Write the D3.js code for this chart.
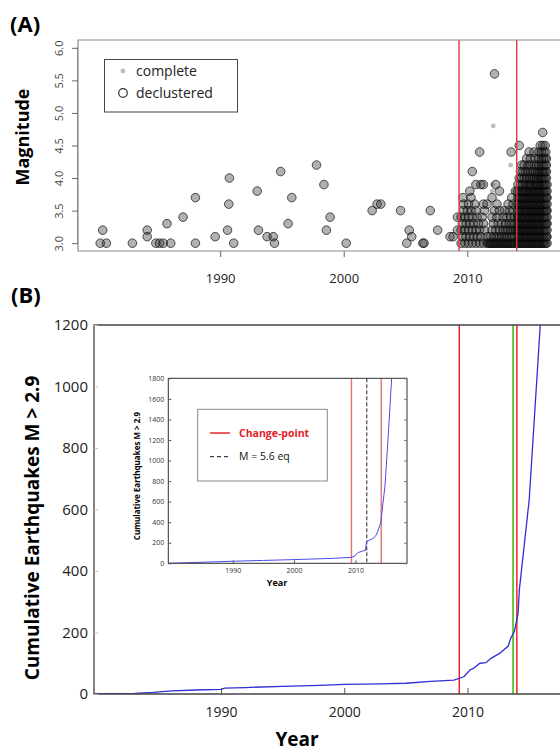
<!DOCTYPE html>
<html>
<head>
<meta charset="utf-8">
<script src="https://cdn.jsdelivr.net/npm/d3@7"></script>
<style>
  body { margin: 0; background: #fff; }
  svg { display: block; font-family: "Open Sans", sans-serif; }
</style>
</head>
<body>
<svg id="chart" width="560" height="752"></svg>
<script>
// ---- panel A: magnitude vs time ----
// isolated events before the first change point [year, magnitude]
const earlyEvents = [
  [1980.3,3.0],[1980.5,3.2],[1980.8,3.0],[1982.9,3.0],[1984.1,3.2],[1984.1,3.1],
  [1984.8,3.0],[1985.1,3.0],[1985.4,3.0],[1985.7,3.3],[1986.0,3.0],[1987.0,3.4],
  [1988.0,3.7],[1988.0,3.0],[1989.6,3.1],[1990.75,4.0],[1990.7,3.6],[1990.6,3.2],
  [1991.1,3.0],[1993.0,3.8],[1993.1,3.2],[1993.8,3.1],[1994.3,3.1],[1994.4,3.0],
  [1994.9,4.1],[1995.5,3.3],[1995.8,3.7],[1997.8,4.2],[1998.4,3.9],[1998.6,3.2],
  [1998.9,3.4],[2000.2,3.0],[2002.3,3.5],[2002.7,3.6],[2003.0,3.6],[2004.6,3.5],
  [2005.1,3.0],[2005.3,3.2],[2005.5,3.1],[2006.4,3.0],[2006.5,3.0],[2007.0,3.5],
  [2007.6,3.2],[2008.6,3.1],[2008.85,3.1],[2009.2,3.4],[2009.2,3.2]
];
// events between the change points, one row per magnitude
const midRows = [
  [3.0, [2009.5,2009.8,2010.1,2010.4,2010.7,2011.0,2011.3,2011.6,2011.7,2011.8,2011.9,2012.0,2012.1,2012.2,2012.3,2012.4,2012.5,2012.6,2012.7,2012.8,2012.9,2013.0,2013.1,2013.2,2013.3,2013.4,2013.5,2013.6,2013.7,2013.8,2013.9]],
  [3.1, [2009.6,2009.9,2010.2,2010.5,2010.8,2011.1,2011.6,2011.9,2012.15,2012.4,2012.6,2012.8,2013.0,2013.2,2013.4,2013.6,2013.8]],
  [3.2, [2009.5,2009.8,2010.1,2010.4,2010.7,2011.0,2011.4,2012.0,2012.3,2012.6,2012.9,2013.1,2013.3,2013.5,2013.7,2013.9]],
  [3.3, [2009.6,2009.9,2010.2,2010.5,2010.9,2011.3,2012.1,2012.5,2012.8,2013.1,2013.4,2013.6,2013.85]],
  [3.4, [2009.5,2009.8,2010.1,2010.4,2010.8,2011.2,2012.0,2012.4,2012.9,2013.2,2013.5,2013.8]],
  [3.5, [2009.7,2010.0,2010.3,2010.7,2011.4,2012.2,2012.6,2013.0,2013.4,2013.75]],
  [3.6, [2009.7,2010.1,2010.6,2011.3,2011.6,2012.4,2013.3,2013.7]],
  [3.7, [2009.65,2010.3,2012.0,2013.6]],
  [3.8, [2010.2,2012.6,2013.9]],
  [3.9, [2010.7,2011.1,2011.3,2012.3]],
  [4.1, [2010.4]],
  [4.4, [2011.0,2013.55]],
  [5.6, [2012.2]]
];
// swarm after the second change point
const swarmRows = [
  [3.0, [2014.05,2014.15,2014.25,2014.35,2014.45,2014.55,2014.65,2014.75,2014.85,2014.95,2015.05,2015.15,2015.25,2015.35,2015.45,2015.55,2015.65,2015.75,2015.85,2015.95,2016.05,2016.15,2016.25,2016.35,2016.45]],
  [3.1, [2014.1,2014.2,2014.3,2014.4,2014.5,2014.6,2014.7,2014.8,2014.9,2015.0,2015.1,2015.2,2015.3,2015.4,2015.5,2015.6,2015.7,2015.8,2015.9,2016.0,2016.1,2016.2,2016.3,2016.4,2016.45]],
  [3.2, [2014.05,2014.15,2014.25,2014.35,2014.45,2014.55,2014.65,2014.75,2014.85,2014.95,2015.05,2015.15,2015.25,2015.35,2015.45,2015.55,2015.65,2015.75,2015.85,2015.95,2016.05,2016.15,2016.25,2016.35,2016.45]],
  [3.3, [2014.1,2014.2,2014.3,2014.4,2014.5,2014.6,2014.7,2014.8,2014.9,2015.0,2015.1,2015.2,2015.3,2015.4,2015.5,2015.6,2015.7,2015.8,2015.9,2016.0,2016.1,2016.2,2016.3,2016.4,2016.45]],
  [3.4, [2014.05,2014.15,2014.25,2014.35,2014.45,2014.55,2014.65,2014.75,2014.85,2014.95,2015.05,2015.15,2015.25,2015.35,2015.45,2015.55,2015.65,2015.75,2015.85,2015.95,2016.05,2016.15,2016.25,2016.35,2016.45]],
  [3.5, [2014.1,2014.2,2014.3,2014.4,2014.5,2014.6,2014.7,2014.8,2014.9,2015.0,2015.1,2015.2,2015.3,2015.4,2015.5,2015.6,2015.7,2015.8,2015.9,2016.0,2016.1,2016.2,2016.3,2016.4,2016.45]],
  [3.6, [2014.05,2014.15,2014.25,2014.35,2014.45,2014.55,2014.65,2014.75,2014.85,2014.95,2015.05,2015.15,2015.25,2015.35,2015.45,2015.55,2015.65,2015.75,2015.85,2015.95,2016.05,2016.15,2016.25,2016.35,2016.45]],
  [3.7, [2014.1,2014.2,2014.3,2014.4,2014.5,2014.6,2014.7,2014.8,2014.9,2015.0,2015.1,2015.2,2015.3,2015.4,2015.5,2015.6,2015.7,2015.8,2015.9,2016.0,2016.1,2016.2,2016.3,2016.4,2016.45]],
  [3.8, [2014.05,2014.2,2014.35,2014.5,2014.6,2014.7,2014.8,2014.95,2015.05,2015.15,2015.25,2015.35,2015.45,2015.55,2015.65,2015.75,2015.85,2015.95,2016.05,2016.15,2016.25,2016.35,2016.45]],
  [3.9, [2014.1,2014.3,2014.5,2014.7,2014.85,2015.0,2015.1,2015.2,2015.35,2015.5,2015.6,2015.7,2015.8,2015.95,2016.05,2016.15,2016.25,2016.35,2016.45]],
  [4.0, [2014.2,2014.4,2014.6,2014.8,2015.0,2015.15,2015.3,2015.45,2015.6,2015.75,2015.9,2016.0,2016.1,2016.2,2016.3,2016.4]],
  [4.1, [2014.3,2014.5,2014.7,2014.9,2015.1,2015.3,2015.5,2015.7,2015.85,2016.0,2016.1,2016.2,2016.3,2016.4]],
  [4.2, [2014.4,2014.6,2014.9,2015.1,2015.4,2015.6,2015.8,2016.0,2016.15,2016.3,2016.4]],
  [4.3, [2014.8,2015.1,2015.5,2015.8,2016.0,2016.15,2016.3,2016.4]],
  [4.4, [2015.0,2015.4,2015.8,2016.0,2016.2,2016.35]],
  [4.5, [2014.2,2015.9,2016.1,2016.3]],
  [4.7, [2016.1]]
];
// events only in the complete catalogue
const completeOnly = [[2012.1,4.8],[2013.5,4.2],[2012.05,3.9],[2012.0,3.8]];
const magTicks = [3.0,3.5,4.0,4.5,5.0,5.5,6.0];
const yearTicks = [1990, 2000, 2010];
const changePoints = [2009.33, 2014.0];

// ---- panel B: cumulative counts ----
const cumYears  = [1979.7,1981,1983,1984.5,1986,1988,1990,1990.3,1992,1995,1998,2000,2003,2005,2007,2008.9,2009.7,2010.2,2010.5,2011.0,2011.5,2011.9,2012.6,2013.3,2013.5,2013.8,2014.1,2014.2,2015.0,2015.9,2016.3];
const cumCounts = [0,1,2,5,10,13,15,19,21,25,28,31,33,35,41,45,56,78,84,100,102,116,132,156,181,203,262,338,631,1200,1450];
const countTicks = [0,200,400,600,800,1000,1200];
const greenLine = 2013.69;

// inset
const insetYears  = [1979.5,1985,1990,1995,2000,2006.3,2009.3,2009.9,2010.4,2011.2,2011.6,2011.8,2012.9,2013.4,2014.1,2014.8,2015.3,2015.9];
const insetCounts = [0,10,20,28,36,48,58,71,104,120,123,211,243,276,389,746,1200,1800];
const insetCountTicks = [0,200,400,600,800,1000,1200,1400,1600,1800];
const insetChangePoints = [2009.35, 2014.2];
const bigQuake = 2011.85;

const svg = d3.select("#chart");
const defs = svg.append("defs");
const toPts = rows => rows.flatMap(([m, ys]) => ys.map(y => [y, m]));
const fontFam = '"Open Sans", sans-serif';

// ================= panel A =================
const xA = d3.scaleLinear().domain([1978.5, 2017.5]).range([78, 560]);
const yA = d3.scaleLinear().domain([2.88, 6.12]).range([251, 40]);

defs.append("clipPath").attr("id", "clipA")
  .append("rect").attr("x", 78).attr("y", 40).attr("width", 482).attr("height", 211);

svg.append("text").attr("x", 10).attr("y", 32)
  .attr("font-size", 22).attr("font-weight", "bold").text("(A)");

const gA = svg.append("g").attr("clip-path", "url(#clipA)");

gA.selectAll(".cmp").data(completeOnly).join("circle")
  .attr("class", "cmp")
  .attr("cx", d => xA(d[0])).attr("cy", d => yA(d[1])).attr("r", 2.4)
  .attr("fill", "#bdbdbd");

const allDecl = earlyEvents.concat(toPts(midRows), toPts(swarmRows));
gA.selectAll(".dec").data(allDecl).join("circle")
  .attr("class", "dec")
  .attr("cx", d => xA(d[0])).attr("cy", d => yA(d[1])).attr("r", 4.3)
  .attr("fill", "rgba(40,40,40,0.36)")
  .attr("stroke", "rgba(0,0,0,0.64)").attr("stroke-width", 1);

gA.selectAll(".cpA").data(changePoints).join("line")
  .attr("class", "cpA")
  .attr("x1", d => xA(d)).attr("x2", d => xA(d))
  .attr("y1", 40).attr("y2", 251)
  .attr("stroke", "#e2373f").attr("stroke-width", 1.4);

// frame
svg.append("path").attr("d", "M560,40H78V251H560")
  .attr("fill", "none").attr("stroke", "#8a8a8a").attr("stroke-width", 1.2);

const axA = svg.append("g").attr("transform", "translate(0,251)")
  .call(d3.axisBottom(xA).tickValues(yearTicks).tickFormat(d3.format("d")).tickSize(6).tickPadding(17));
axA.select(".domain").remove();
axA.selectAll("line").attr("stroke", "#666");
axA.selectAll("text").attr("font-size", 13).attr("fill", "#222").attr("font-family", fontFam);

const ayA = svg.append("g").attr("transform", "translate(78,0)")
  .call(d3.axisLeft(yA).tickValues(magTicks).tickFormat(d3.format(".1f")).tickSize(6));
ayA.select(".domain").attr("d", `M-0.5,${yA(3)}V${yA(6)}`).attr("stroke", "#8a8a8a");
ayA.selectAll("line").attr("stroke", "#666");
ayA.selectAll("text")
  .attr("transform", "rotate(-90)")
  .attr("x", 0).attr("y", -15).attr("dy", 0)
  .attr("text-anchor", "middle")
  .attr("font-size", 11).attr("fill", "#444").attr("font-family", fontFam);

svg.append("text")
  .attr("transform", "translate(29,137) rotate(-90)")
  .attr("text-anchor", "middle")
  .attr("font-size", 18).attr("font-weight", "bold").text("Magnitude");

// legend A
const legA = svg.append("g");
legA.append("rect").attr("x", 104.5).attr("y", 59.5).attr("width", 133).attr("height", 52.5)
  .attr("fill", "#fff").attr("stroke", "#444").attr("stroke-width", 1);
legA.append("circle").attr("cx", 123).attr("cy", 71).attr("r", 2.4).attr("fill", "#bdbdbd");
legA.append("circle").attr("cx", 123).attr("cy", 93).attr("r", 4.3)
  .attr("fill", "none").attr("stroke", "#333").attr("stroke-width", 1.2);
legA.append("text").attr("x", 136).attr("y", 71).attr("dy", "0.35em")
  .attr("font-size", 14).attr("fill", "#222").text("complete");
legA.append("text").attr("x", 136).attr("y", 93).attr("dy", "0.35em")
  .attr("font-size", 14).attr("fill", "#222").text("declustered");

// ================= panel B =================
const xB = d3.scaleLinear().domain([1979.7, 2017.5]).range([94, 560]);
const yB = d3.scaleLinear().domain([0, 1200]).range([694, 325]);

defs.append("clipPath").attr("id", "clipB")
  .append("rect").attr("x", 94).attr("y", 325).attr("width", 466).attr("height", 369);

svg.append("text").attr("x", 11).attr("y", 303)
  .attr("font-size", 22).attr("font-weight", "bold").text("(B)");

const gB = svg.append("g").attr("clip-path", "url(#clipB)");

gB.selectAll(".cpB").data(changePoints).join("line")
  .attr("class", "cpB")
  .attr("x1", d => xB(d)).attr("x2", d => xB(d))
  .attr("y1", 325).attr("y2", 694)
  .attr("stroke", "#e8262b").attr("stroke-width", 1.5);
gB.append("line")
  .attr("x1", xB(greenLine)).attr("x2", xB(greenLine))
  .attr("y1", 325).attr("y2", 694)
  .attr("stroke", "#5fc12e").attr("stroke-width", 1.8);

const lineB = d3.line().x((d, i) => xB(cumYears[i])).y(d => yB(d));
gB.append("path").datum(cumCounts)
  .attr("d", lineB)
  .attr("fill", "none").attr("stroke", "#2f2fd6").attr("stroke-width", 1.3);

svg.append("path").attr("d", "M560,325H94V694H560")
  .attr("fill", "none").attr("stroke", "#444").attr("stroke-width", 1.3);

const axB = svg.append("g").attr("transform", "translate(0,694)")
  .call(d3.axisBottom(xB).tickValues(yearTicks).tickFormat(d3.format("d")).tickSizeInner(-6).tickSizeOuter(0).tickPadding(13));
axB.select(".domain").remove();
axB.selectAll("line").attr("stroke", "#555");
axB.selectAll("text").attr("font-size", 14).attr("fill", "#222").attr("font-family", fontFam);

const ayB = svg.append("g").attr("transform", "translate(94,0)")
  .call(d3.axisLeft(yB).tickValues(countTicks).tickFormat(d3.format("d")).tickSizeInner(-4).tickSizeOuter(0).tickPadding(6));
ayB.select(".domain").remove();
ayB.selectAll("line").attr("stroke", "#bbb");
ayB.selectAll("text").attr("font-size", 15).attr("fill", "#222").attr("font-family", fontFam);

svg.append("text")
  .attr("transform", "translate(39,528) rotate(-90)")
  .attr("text-anchor", "middle")
  .attr("font-size", 19).attr("font-weight", "bold").text("Cumulative Earthquakes M > 2.9");
svg.append("text").attr("x", 297).attr("y", 746)
  .attr("text-anchor", "middle")
  .attr("font-size", 19).attr("font-weight", "bold").text("Year");

// ---- inset ----
const xI = d3.scaleLinear().domain([1979.5, 2018.4]).range([168.3, 407]);
const yI = d3.scaleLinear().domain([0, 1800]).range([563.3, 378.3]);

defs.append("clipPath").attr("id", "clipI")
  .append("rect").attr("x", 168.3).attr("y", 378.3).attr("width", 238.7).attr("height", 185);

svg.append("rect").attr("x", 168.3).attr("y", 378.3).attr("width", 238.7).attr("height", 185)
  .attr("fill", "#fff");

const gI = svg.append("g").attr("clip-path", "url(#clipI)");
gI.selectAll(".cpI").data(insetChangePoints).join("line")
  .attr("class", "cpI")
  .attr("x1", d => xI(d)).attr("x2", d => xI(d))
  .attr("y1", 378.3).attr("y2", 563.3)
  .attr("stroke", "#e57373").attr("stroke-width", 1.4);
gI.append("line")
  .attr("x1", xI(bigQuake)).attr("x2", xI(bigQuake))
  .attr("y1", 378.3).attr("y2", 563.3)
  .attr("stroke", "#3a1a1a").attr("stroke-width", 1).attr("stroke-dasharray", "4,2");

const lineI = d3.line().x((d, i) => xI(insetYears[i])).y(d => yI(d));
gI.append("path").datum(insetCounts)
  .attr("d", lineI)
  .attr("fill", "none").attr("stroke", "#4b4bea").attr("stroke-width", 1);

svg.append("rect").attr("x", 168.3).attr("y", 378.3).attr("width", 238.7).attr("height", 185)
  .attr("fill", "none").attr("stroke", "#333").attr("stroke-width", 1);

const axI = svg.append("g").attr("transform", "translate(0,563.3)")
  .call(d3.axisBottom(xI).tickValues(yearTicks).tickFormat(d3.format("d")).tickSizeInner(-3).tickSizeOuter(0).tickPadding(5));
axI.select(".domain").remove();
axI.selectAll("line").attr("stroke", "#555");
axI.selectAll("text").attr("font-size", 7).attr("fill", "#333").attr("font-family", fontFam);

const ayI = svg.append("g").attr("transform", "translate(168.3,0)")
  .call(d3.axisLeft(yI).tickValues(insetCountTicks).tickFormat(d3.format("d")).tickSizeInner(-3).tickSizeOuter(0).tickPadding(4));
ayI.select(".domain").remove();
ayI.selectAll("line").attr("stroke", "#555");
ayI.selectAll("text").attr("font-size", 7).attr("fill", "#333").attr("font-family", fontFam);

const ayI2 = svg.append("g").attr("transform", "translate(407,0)")
  .call(d3.axisRight(yI).tickValues(insetCountTicks).tickSizeInner(-3).tickSizeOuter(0).tickFormat(""));
ayI2.select(".domain").remove();
ayI2.selectAll("line").attr("stroke", "#777");

svg.append("text")
  .attr("transform", "translate(140,476) rotate(-90)")
  .attr("text-anchor", "middle")
  .attr("font-size", 8).attr("font-weight", "bold").text("Cumulative Earthquakes M > 2.9");
svg.append("text").attr("x", 277).attr("y", 586)
  .attr("text-anchor", "middle")
  .attr("font-size", 9).attr("font-weight", "bold").text("Year");

// inset legend
const legI = svg.append("g");
legI.append("rect").attr("x", 197.7).attr("y", 409.3).attr("width", 129.6).attr("height", 71.7)
  .attr("fill", "#fff").attr("stroke", "#888").attr("stroke-width", 1);
legI.append("line").attr("x1", 210).attr("x2", 230).attr("y1", 433).attr("y2", 433)
  .attr("stroke", "#e8262b").attr("stroke-width", 1.5);
legI.append("text").attr("x", 239).attr("y", 433).attr("dy", "0.35em")
  .attr("font-size", 10.5).attr("font-weight", "bold").attr("fill", "#e0202a").text("Change-point");
legI.append("line").attr("x1", 210).attr("x2", 230).attr("y1", 456.7).attr("y2", 456.7)
  .attr("stroke", "#111").attr("stroke-width", 1).attr("stroke-dasharray", "4,3");
legI.append("text").attr("x", 239).attr("y", 456.7).attr("dy", "0.35em")
  .attr("font-size", 10.5).attr("fill", "#111").text("M = 5.6 eq");
</script>
</body>
</html>
